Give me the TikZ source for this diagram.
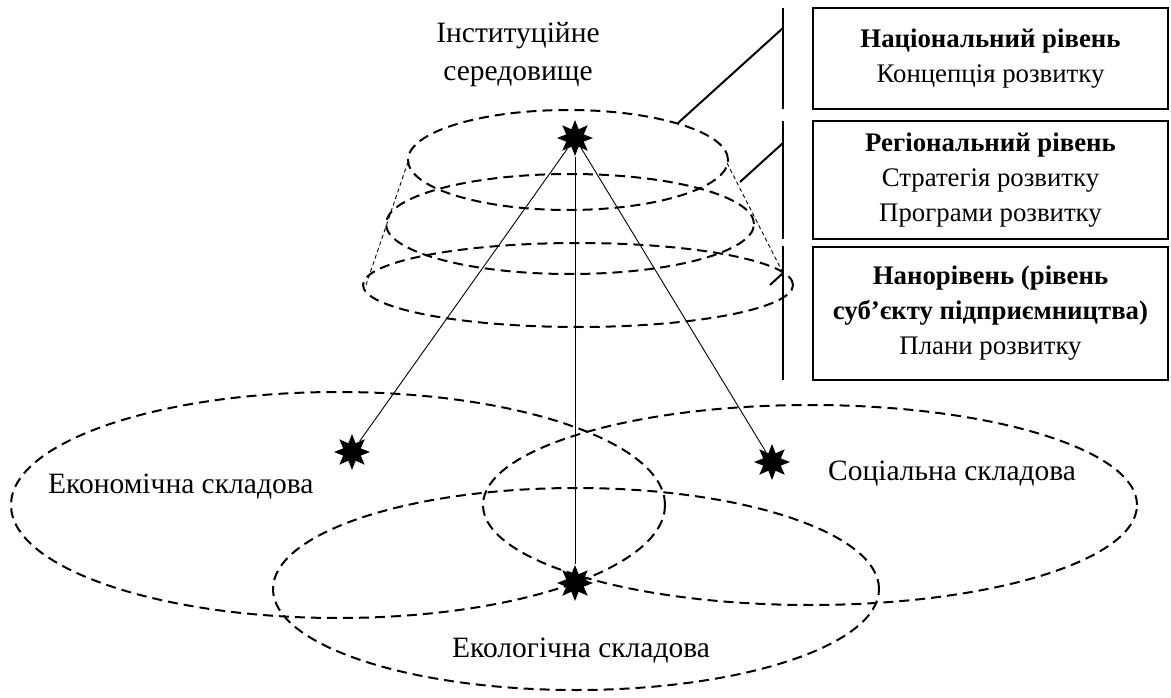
\documentclass[tikz,border=0pt]{standalone}
\usepackage{fontspec}
\setmainfont{Liberation Serif}
\usetikzlibrary{shapes.geometric}
\begin{document}
\begin{tikzpicture}[x=1pt,y=-1pt,
  thickdash/.style={draw=black, line width=2pt, dash pattern=on 10pt off 6pt},
  thindash/.style={draw=black, line width=0.9pt, dash pattern=on 4pt off 3pt},
  oval/.style={ellipse, thickdash, inner sep=0pt},
  starnode/.style={star, star points=8, star point ratio=1.9, fill=black, draw=none, minimum size=36pt, inner sep=0pt},
  conn/.style={draw=black, line width=0.9pt},
  bar/.style={draw=black, line width=2pt},
  levelbox/.style={draw=black, line width=2pt, minimum width=355pt, align=center, inner sep=0pt,
    font=\fontsize{26.8}{35}\selectfont},
  lbl/.style={font=\fontsize{29.5}{38}\selectfont, align=center, inner sep=0pt}
]
\useasboundingbox (0,0) rectangle (1171,698);

% bottom ellipses
\node[oval, minimum width=654pt, minimum height=226pt] (econ) at (338,505) {};
\node[oval, minimum width=654pt, minimum height=200pt] (soc) at (810,505) {};
\node[oval, minimum width=606pt, minimum height=202pt] (eco) at (576,589) {};

% cone ellipses
\node[oval, minimum width=320pt, minimum height=100pt] (e1) at (568,160) {};
\node[oval, minimum width=368pt, minimum height=100pt] (e2) at (570,224) {};
\node[oval, minimum width=430pt, minimum height=84pt] (e3) at (578,285) {};

% cone sides
\coordinate (cl1) at (408,162);
\coordinate (cl2) at (366,285);
\coordinate (cr1) at (727,163);
\coordinate (cr2) at (783,273);
\draw[thindash] (cl1) -- (cl2);
\draw[thindash] (cr1) -- (cr2);

% stars
\node[starnode] (s0) at (575,138) {};
\node[starnode] (s1) at (352,452) {};
\node[starnode] (s2) at (575,583) {};
\node[starnode] (s3) at (772,462) {};

\draw[conn] (s0) -- (s1);
\draw[conn] (s0) -- (s2);
\draw[conn] (s0) -- (s3);

% vertical bars and ties
\coordinate (v1a) at (783,8);
\coordinate (v1b) at (783,109);
\coordinate (v2a) at (783,121);
\coordinate (v2b) at (783,239);
\coordinate (v3a) at (783,246);
\coordinate (v3b) at (783,380);
\draw[bar] (v1a) -- (v1b);
\draw[bar] (v2a) -- (v2b);
\draw[bar] (v3a) -- (v3b);
\coordinate (t1a) at (783,28);
\coordinate (t1b) at (678,123);
\coordinate (t2a) at (783,143);
\coordinate (t2b) at (740,182);
\coordinate (t3a) at (783,273);
\coordinate (t3b) at (770,285);
\draw[bar] (t1a) -- (t1b);
\draw[bar] (t2a) -- (t2b);
\draw[bar] (t3a) -- (t3b);

% level boxes
\node[levelbox, minimum height=101pt] (b1) at (990.5,58.5)
  {\textbf{Національний рівень}\\Концепція розвитку};
\node[levelbox, minimum height=118pt] (b2) at (990.5,180)
  {\textbf{Регіональний рівень}\\Стратегія розвитку\\Програми розвитку};
\node[levelbox, minimum height=133pt] (b3) at (990.5,313.5)
  {\textbf{Нанорівень (рівень}\\\textbf{суб’єкту підприємництва)}\\Плани розвитку};

% labels
\node[lbl] (inst) at (518,55) {Інституційне\\середовище};
\node[lbl, anchor=base west] (econl) at (48,493) {Економічна складова};
\node[lbl, anchor=base west] (socl) at (828,480) {Соціальна складова};
\node[lbl, anchor=base west] (ecol) at (452,657) {Екологічна складова};
\end{tikzpicture}
\end{document}
